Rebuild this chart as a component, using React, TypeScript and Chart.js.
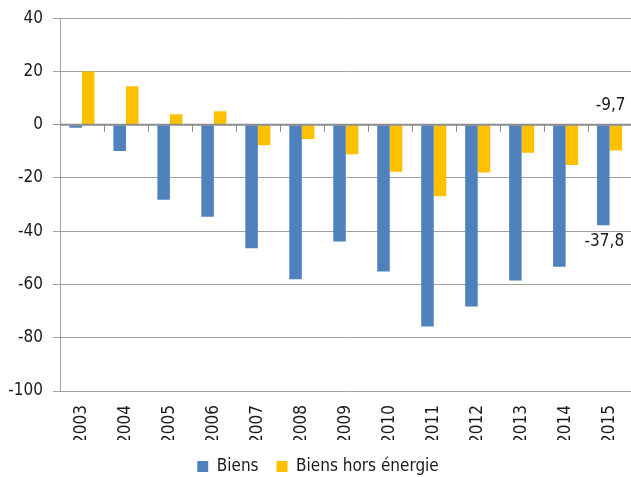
import { useEffect, useRef } from "react";
import { Chart, registerables } from "chart.js";

Chart.register(...registerables);

const years = ["2003", "2004", "2005", "2006", "2007", "2008", "2009", "2010", "2011", "2012", "2013", "2014", "2015"];
const biens = [-1.1, -9.9, -28.2, -34.6, -46.4, -58.0, -43.9, -55.1, -75.8, -68.3, -58.5, -53.3, -37.8];
const biensHorsEnergie = [20.0, 14.4, 3.9, 5.1, -7.7, -5.4, -11.1, -17.7, -26.9, -17.9, -10.5, -15.1, -9.7];
const seriesNames = ["Biens", "Biens hors énergie"];
const yMin = -100;
const yMax = 40;
const yStep = 20;

const FONT = "'DejaVu Sans Condensed', 'Liberation Sans Narrow', 'Liberation Sans', sans-serif";
const FS = 17;

const fmt = (v: number) => v.toFixed(1).replace(".", ",");

const decorPlugin = {
  id: "decor",
  afterDatasetsDraw(chart: any) {
    const { ctx, chartArea, scales } = chart;
    const y = scales.y;
    const x = scales.x;
    const y0 = y.getPixelForValue(0);
    ctx.save();
    ctx.strokeStyle = "#8c8c8c";
    ctx.lineWidth = 2;
    ctx.beginPath();
    ctx.moveTo(chartArea.left, y0);
    ctx.lineTo(chartArea.right, y0);
    ctx.stroke();
    ctx.lineWidth = 1;
    const n = years.length;
    for (let i = 1; i < n; i++) {
      const bx = Math.round((x.getPixelForValue(i - 1) + x.getPixelForValue(i)) / 2) + 0.5;
      ctx.beginPath();
      ctx.moveTo(bx, y0);
      ctx.lineTo(bx, y0 + 7);
      ctx.stroke();
    }
    const last = n - 1;
    const metaB = chart.getDatasetMeta(0).data[last];
    const metaY = chart.getDatasetMeta(1).data[last];
    ctx.fillStyle = "#1a1a1a";
    ctx.font = `${FS}px ${FONT}`;
    ctx.textAlign = "center";
    ctx.textBaseline = "middle";
    ctx.fillText(fmt(biensHorsEnergie[last]), (metaB.x + metaY.x) / 2 + 1, y0 - 19);
    ctx.fillText(fmt(biens[last]), metaB.x + 1, y.getPixelForValue(biens[last]) + 16);
    ctx.restore();
  },
};

export default function App() {
  const ref = useRef<HTMLCanvasElement | null>(null);
  useEffect(() => {
    if (!ref.current) return;
    const chart = new Chart(ref.current, {
      type: "bar",
      data: {
        labels: years,
        datasets: [
          {
            label: seriesNames[0],
            data: biens,
            backgroundColor: "#4f81bd",
            borderWidth: 0,
            categoryPercentage: 0.57,
            barPercentage: 1,
          },
          {
            label: seriesNames[1],
            data: biensHorsEnergie,
            backgroundColor: "#ffc000",
            borderWidth: 0,
            categoryPercentage: 0.57,
            barPercentage: 1,
          },
        ],
      },
      options: {
        animation: false,
        responsive: false,
        maintainAspectRatio: false,
        layout: { padding: { top: 14, right: 0, left: 0, bottom: 0 } },
        plugins: {
          tooltip: { enabled: false },
          legend: {
            position: "bottom",
            labels: {
              boxWidth: 11,
              boxHeight: 11,
              padding: 18,
              color: "#1a1a1a",
              font: { family: FONT, size: FS },
            },
          },
        },
        scales: {
          x: {
            grid: { display: false },
            border: { display: false },
            ticks: {
              color: "#1a1a1a",
              font: { family: FONT, size: FS },
              minRotation: 90,
              maxRotation: 90,
              padding: 6,
              autoSkip: false,
            },
            afterFit(scale: any) {
              scale.height = 49;
            },
          },
          y: {
            min: yMin,
            max: yMax,
            grid: { color: "#a0a0a0", lineWidth: 1, tickLength: 7 },
            border: { display: true, color: "#a0a0a0", width: 1 },
            ticks: {
              stepSize: yStep,
              color: "#1a1a1a",
              font: { family: FONT, size: FS },
              padding: 10,
            },
            afterFit(scale: any) {
              scale.width = 60;
            },
          },
        },
      },
      plugins: [decorPlugin],
    });
    return () => chart.destroy();
  }, []);
  return (
    <div style={{ position: "fixed", left: 0, top: 0, width: 631, height: 477, overflow: "hidden", background: "#fff" }}>
      <canvas
        ref={ref}
        width={636}
        height={487}
        style={{ width: 636, height: 487, display: "block", marginTop: -2 }}
      />
    </div>
  );
}
